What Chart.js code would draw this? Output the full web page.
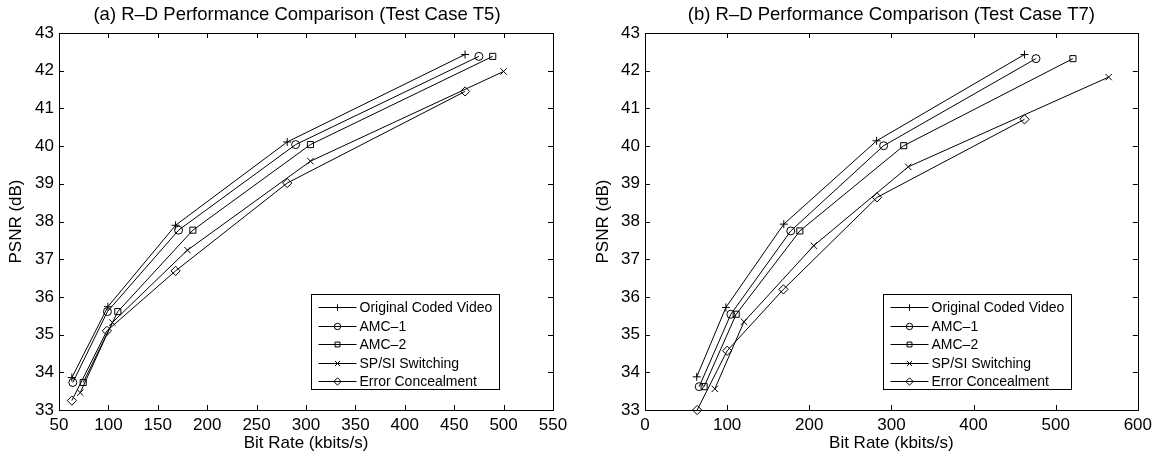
<!DOCTYPE html>
<html>
<head>
<meta charset="utf-8">
<script src="https://cdn.jsdelivr.net/npm/chart.js@4.4.1/dist/chart.umd.min.js"></script>
<style>
  body { margin: 0; background: #fff; }
  .box { position: absolute; top: 0; height: 456px; }
  #wrapA { left: 0; width: 580px; }
  #wrapB { left: 580px; width: 577px; }
</style>
</head>
<body>
<div class="box" id="wrapA"><canvas id="chartA" width="580" height="456"></canvas></div>
<div class="box" id="wrapB"><canvas id="chartB" width="577" height="456"></canvas></div>
<script>
// series names and markers
const seriesNames = ['Original Coded Video', 'AMC\u20131', 'AMC\u20132', 'SP/SI Switching', 'Error Concealment'];
const seriesMarkers = ['cross', 'circle', 'rect', 'crossRot', 'rectRot'];

// (a) Test Case T5 - bit rate (kbits/s) and PSNR (dB)
const t5RateOrig = [63, 99.5, 168, 281, 461];
const t5PsnrOrig = [33.86, 35.74, 37.90, 40.11, 42.43];
const t5RateAmc1 = [64, 99, 171, 289.5, 475];
const t5PsnrAmc1 = [33.73, 35.61, 37.77, 40.04, 42.38];
const t5RateAmc2 = [74.5, 109.5, 185.5, 304.5, 489];
const t5PsnrAmc2 = [33.73, 35.61, 37.77, 40.04, 42.38];
const t5RateSpsi = [71.5, 104, 180, 304.5, 500];
const t5PsnrSpsi = [33.46, 35.32, 37.24, 39.60, 41.98];
const t5RateEc = [63, 98.5, 168, 281, 461];
const t5PsnrEc = [33.25, 35.10, 36.69, 39.02, 41.45];

// (b) Test Case T7
const t7RateOrig = [63, 98.5, 169, 282, 462];
const t7PsnrOrig = [33.88, 35.72, 37.93, 40.14, 42.43];
const t7RateAmc1 = [66, 104.5, 177.5, 290.5, 476];
const t7PsnrAmc1 = [33.62, 35.54, 37.75, 40.01, 42.32];
const t7RateAmc2 = [72, 111, 188.5, 315, 521];
const t7PsnrAmc2 = [33.62, 35.54, 37.75, 40.01, 42.32];
const t7RateSpsi = [85, 120.5, 205.5, 320.5, 564.5];
const t7PsnrSpsi = [33.56, 35.34, 37.36, 39.45, 41.83];
const t7RateEc = [63.5, 100, 168.5, 282.5, 462];
const t7PsnrEc = [33.0, 34.57, 36.20, 38.64, 40.71];

// axis ranges
const t5RateTicks = [50, 550, 50];
const t7RateTicks = [0, 600, 100];
const psnrTicks = [33, 43, 1];

const FONT = '"Liberation Sans", Arial, Helvetica, sans-serif';
const markerRadius = { cross: 4, circle: 4, rect: 4.3, crossRot: 4.5, rectRot: 4.6 };

const pairs = (xs, ys) => xs.map((x, i) => ({ x: x, y: ys[i] }));

// nudge the title sideways a bit
const titleShift = {
    id: 'titleShift',
    afterLayout(chart, args, opts) {
        if (chart.titleBlock && opts.dx) {
            chart.titleBlock.left += opts.dx;
            chart.titleBlock.right += opts.dx;
        }
    }
};

// box round the plot plus inward ticks on all four sides (matlab style)
const boxTicks = {
    id: 'boxTicks',
    afterDraw(chart) {
        const { ctx, chartArea: a, scales } = chart;
        const len = 5;
        ctx.save();
        ctx.strokeStyle = '#000';
        ctx.lineWidth = 1;
        ctx.beginPath();
        scales.x.ticks.forEach(t => {
            const px = Math.round(scales.x.getPixelForValue(t.value)) + 0.5;
            ctx.moveTo(px, a.bottom); ctx.lineTo(px, a.bottom - len);
            ctx.moveTo(px, a.top); ctx.lineTo(px, a.top + len);
        });
        scales.y.ticks.forEach(t => {
            const py = Math.round(scales.y.getPixelForValue(t.value)) + 0.5;
            ctx.moveTo(a.left, py); ctx.lineTo(a.left + len, py);
            ctx.moveTo(a.right, py); ctx.lineTo(a.right - len, py);
        });
        ctx.stroke();
        ctx.strokeRect(Math.round(a.left) + 0.5, Math.round(a.top) + 0.5,
            Math.round(a.right - a.left), Math.round(a.bottom - a.top));
        ctx.restore();
    }
};

// legend box inside the plot, lower right
const boxLegend = {
    id: 'boxLegend',
    afterDraw(chart, args, opts) {
        const { ctx, chartArea: a } = chart;
        ctx.save();
        ctx.font = '14px ' + FONT;
        const textW = Math.max(...chart.data.datasets.map(d => ctx.measureText(d.label).width));
        const w = 48 + textW + 7;
        const h = 95;
        const x0 = Math.round(a.right - opts.right - w) + 0.5;
        const y0 = Math.round(a.bottom - opts.bottom - h) + 0.5;
        ctx.fillStyle = '#fff';
        ctx.fillRect(x0, y0, w, h);
        ctx.strokeStyle = '#000';
        ctx.lineWidth = 1;
        ctx.strokeRect(x0, y0, Math.round(w), h);
        chart.data.datasets.forEach((d, i) => {
            const y = Math.round(y0 + 12.5 + i * 18.5) + 0.5;
            ctx.beginPath();
            ctx.moveTo(x0 + 7, y); ctx.lineTo(x0 + 45, y);
            ctx.stroke();
            if (Chart.helpers && Chart.helpers.drawPoint) {
                ctx.fillStyle = 'rgba(0,0,0,0)';
                Chart.helpers.drawPoint(ctx, { pointStyle: d.pointStyle, radius: d.pointRadius * 0.8, borderWidth: 1, rotation: 0 }, x0 + 26, y);
            }
            ctx.fillStyle = '#000';
            ctx.textBaseline = 'middle';
            ctx.textAlign = 'left';
            ctx.fillText(d.label, x0 + 48, y + 0.5);
        });
        ctx.restore();
    }
};

const makeChart = (id, title, rates, psnrs, xr, cfg) => {
    const datasets = seriesNames.map((name, i) => ({
        label: name,
        data: pairs(rates[i], psnrs[i]),
        borderColor: '#000',
        borderWidth: 1,
        pointStyle: seriesMarkers[i],
        pointRadius: markerRadius[seriesMarkers[i]],
        pointHoverRadius: markerRadius[seriesMarkers[i]],
        pointBorderColor: '#000',
        pointBorderWidth: 1,
        pointBackgroundColor: 'rgba(0,0,0,0)',
        tension: 0,
        clip: false
    }));
    return new Chart(document.getElementById(id), {
        type: 'line',
        data: { datasets: datasets },
        plugins: [titleShift, boxTicks, boxLegend],
        options: {
            responsive: false,
            animation: false,
            devicePixelRatio: 1,
            layout: { padding: { left: 0, right: cfg.padRight, top: 0, bottom: 0 } },
            plugins: {
                legend: { display: false },
                tooltip: { enabled: false },
                title: {
                    display: true,
                    text: title,
                    color: '#000',
                    fullSize: false,
                    font: { family: FONT, size: 18.5, weight: 'normal', lineHeight: 1 },
                    padding: { top: 6, bottom: 8.5 }
                },
                titleShift: { dx: cfg.titleDx },
                boxLegend: cfg.legend
            },
            scales: {
                x: {
                    type: 'linear',
                    min: xr[0], max: xr[1],
                    grid: { display: false, drawTicks: false },
                    border: { display: false },
                    ticks: {
                        stepSize: xr[2], autoSkip: false, maxRotation: 0,
                        color: '#000', padding: 5,
                        font: { family: FONT, size: 17 }
                    },
                    title: {
                        display: true, text: 'Bit Rate (kbits/s)', color: '#000',
                        font: { family: FONT, size: 17, lineHeight: 1 },
                        padding: { top: 0, bottom: 4.5 }
                    },
                    afterFit: s => { s.height = 46; }
                },
                y: {
                    min: psnrTicks[0], max: psnrTicks[1],
                    grid: { display: false, drawTicks: false },
                    border: { display: false },
                    ticks: {
                        stepSize: psnrTicks[2], autoSkip: false,
                        color: '#000', padding: 5,
                        font: { family: FONT, size: 17 }
                    },
                    title: {
                        display: true, text: 'PSNR (dB)', color: '#000',
                        font: { family: FONT, size: 17, lineHeight: 1 },
                        padding: { top: cfg.yTitlePad, bottom: 0 }
                    },
                    afterFit: s => { s.width = cfg.yWidth; }
                }
            }
        }
    });
};

makeChart('chartA', '(a) R\u2013D Performance Comparison (Test Case T5)',
    [t5RateOrig, t5RateAmc1, t5RateAmc2, t5RateSpsi, t5RateEc],
    [t5PsnrOrig, t5PsnrAmc1, t5PsnrAmc2, t5PsnrSpsi, t5PsnrEc],
    t5RateTicks,
    { yWidth: 59, padRight: 27, yTitlePad: 7.5, titleDx: -9, legend: { right: 54, bottom: 21 } });

makeChart('chartB', '(b) R\u2013D Performance Comparison (Test Case T7)',
    [t7RateOrig, t7RateAmc1, t7RateAmc2, t7RateSpsi, t7RateEc],
    [t7PsnrOrig, t7PsnrAmc1, t7PsnrAmc2, t7PsnrSpsi, t7PsnrEc],
    t7RateTicks,
    { yWidth: 65, padRight: 17, yTitlePad: 15, titleDx: 0, legend: { right: 67, bottom: 21 } });
</script>
</body>
</html>
